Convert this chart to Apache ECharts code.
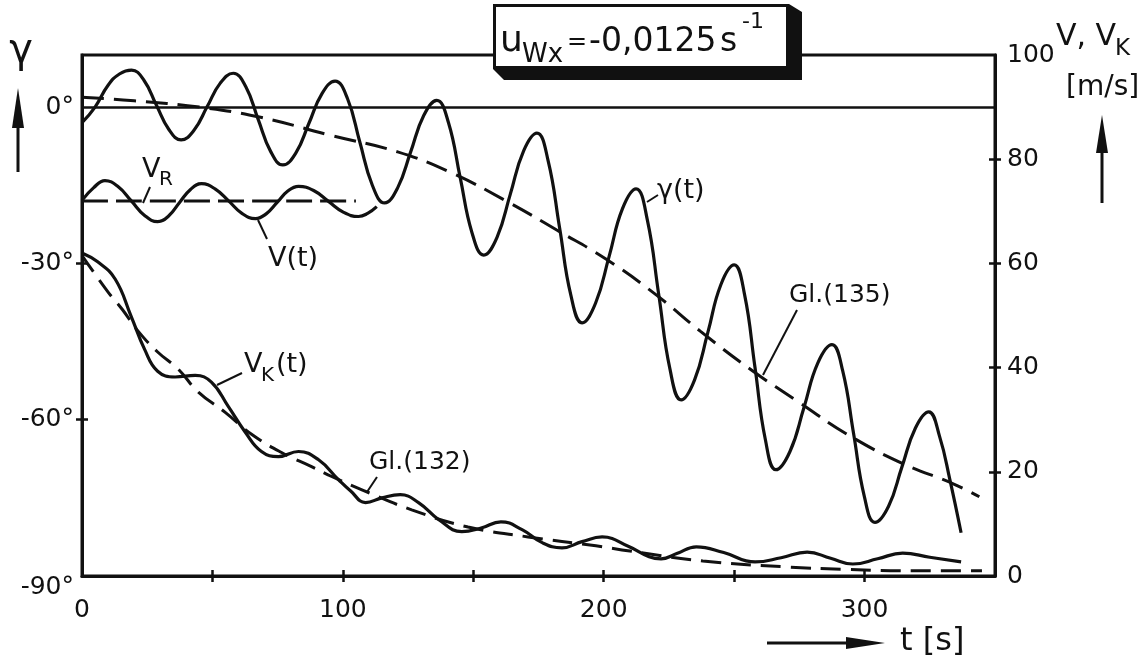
<!DOCTYPE html>
<html>
<head>
<meta charset="utf-8">
<script src="https://cdn.jsdelivr.net/npm/echarts@6/dist/echarts.min.js"></script>
<style>
  html, body { margin: 0; padding: 0; background: #fff; }
  #chart { width: 1144px; height: 656px; }
</style>
</head>
<body>
<div id="chart"></div>
<script>
// ---- data -------------------------------------------------------------
// time axis (s)
const tLabelValues = [0, 100, 200, 300];
const tTickValues = [50, 100, 150, 200, 250, 300];
// left axis: flight path angle (deg)
const gammaLabelValues = [-90, -60, -30, 0];
const gammaTickValues = [-60, -30];
// right axis: speed (m/s)
const speedLabelValues = [0, 20, 40, 60, 80, 100];
const speedTickValues = [20, 40, 60, 80];

// γ(t) [t s, deg]
const gammaT = [
  [0, -3.0], [5, 0.0], [10, 4.2], [14.5, 6.4], [19, 7.1],
  [23.8, 5.1], [28.5, 0.4], [33.3, -4.3], [38, -6.3],
  [43, -4.4], [48, 0.1], [53, 4.6], [58, 6.5],
  [62.8, 3.9], [67.5, -2.3], [72.3, -8.5], [77, -11.1],
  [82, -8.8], [87, -3.1], [92, 2.6], [97, 5.0],
  [101.8, 1.6], [106.5, -6.7], [111.3, -15.0], [116, -18.4],
  [121, -15.5], [126, -8.6], [131, -1.6], [136, 1.3],
  [140.5, -3.0], [145, -13.6], [149.5, -24.1], [154, -28.4],
  [159.1, -25.0], [164.2, -16.7], [169.3, -8.4], [174.4, -5.0],
  [178.7, -10.3], [183.1, -23.2], [187.4, -36.1], [191.7, -41.4],
  [196.9, -37.6], [202.1, -28.6], [207.2, -19.5], [212.4, -15.7],
  [216.7, -21.6], [221.1, -36.0], [225.4, -50.3], [229.7, -56.2],
  [234.8, -52.4], [239.9, -43.3], [244.9, -34.1], [250, -30.3],
  [254, -36.0], [258, -50.0], [262, -63.9], [266, -69.6],
  [271.4, -66.1], [276.8, -57.6], [282.1, -49.1], [287.5, -45.6],
  [291.6, -50.6], [295.8, -62.7], [299.9, -74.7], [304, -79.7],
  [309.2, -76.6], [314.3, -69.1], [319.5, -61.6], [324.6, -58.5],
  [328.8, -63.3], [332.7, -71.5], [337, -81.7]
];
// Gl.(135) [t s, deg]
const gl135 = [
  [0, 1.9], [20, 1.2], [45, 0.0], [68, -1.9], [96, -5.5], [121, -8.6],
  [142, -12.7], [164, -18.4], [182, -23.6], [201, -29.2], [220, -36.0],
  [237, -43.0], [257, -50.6], [275, -56.7], [294, -63.0], [315, -68.5],
  [334, -72.3], [344, -74.8]
];
// V(t) [t s, m/s]
const vT = [
  [0, 72.1], [4.4, 74.5], [8.8, 75.9], [13.9, 74.7], [18.9, 72.0], [24, 69.2],
  [29, 68.0], [33.2, 69.1], [37.4, 71.7], [41.6, 74.2], [45.8, 75.3],
  [51, 74.3], [56.2, 72.0], [61.3, 69.6], [66.5, 68.6], [70.6, 69.5],
  [74.8, 71.7], [78.9, 73.9], [83, 74.8], [88.8, 74.0], [94.5, 71.9],
  [100.3, 69.8], [106, 69.0], [109.5, 69.6], [113, 70.9]
];
// V_R [t s, m/s]
const vR = [[0, 72], [105, 72]];
// V_K(t) [t s, m/s]
const vK = [
  [0, 62], [6, 60.3], [12.7, 57], [18.8, 49.9], [24, 43.5], [29, 39.3],
  [35.7, 38.2], [43.4, 38.5], [49.6, 37.2], [56, 32.6], [62.6, 27.6],
  [68.8, 23.9], [75.3, 22.9], [83, 23.9], [90.7, 22.3], [98.3, 18.5],
  [103, 16.3], [108.7, 14.1], [115, 15.0], [122, 15.6], [129, 14.1],
  [136.8, 10.8], [145.6, 8.5], [153, 9.2], [160.6, 10.4], [168.7, 8.9],
  [176.4, 6.4], [184, 5.4], [191.7, 6.6], [199.4, 7.5], [209.8, 5.6],
  [217.4, 3.7], [222, 3.3], [228, 4.3], [235.5, 5.6], [246, 4.5],
  [258, 2.7], [268, 3.5], [278, 4.6], [287, 3.4], [295.5, 2.3],
  [305, 3.3], [314.6, 4.4], [325, 3.6], [337, 2.7]
];
// Gl.(132) [t s, m/s]
const gl132 = [
  [0, 61.5], [10, 54.5], [15.4, 51.2], [21.5, 47.0], [29, 43.0], [36.9, 39.7],
  [44.6, 35.3], [54.9, 31.4], [65, 27.2], [76.5, 23.7], [88, 21.0],
  [95.7, 19.1], [108, 16.4], [126.4, 12.7], [148, 9.4], [171, 7.5],
  [197, 5.8], [210, 4.8], [238, 2.9], [271.6, 1.7], [291.6, 1.3],
  [318, 1.0], [345, 1.0]
];

// ---- styling ----------------------------------------------------------
const INK = '#111';
const FONT = '"DejaVu Sans", sans-serif';
const LW = 3.2;

function curve(name, data, yAxisIndex, dash) {
  return {
    name, type: 'line', data, yAxisIndex, smooth: 0.45,
    symbol: 'none', silent: true,
    lineStyle: { color: INK, width: dash ? 3 : LW, type: dash || 'solid', cap: 'butt' }
  };
}

function valueAxis(extra) {
  return Object.assign({
    type: 'value', splitLine: { show: false },
    axisLine: { show: true, onZero: false, lineStyle: { color: INK, width: 3 } },
    axisTick: { show: true, length: 6, lineStyle: { color: INK, width: 2.5 } },
    axisLabel: { color: INK, fontSize: 25, fontFamily: FONT }
  }, extra);
}

function innerTicks(base, ticks) {
  return Object.assign({}, base, {
    axisLine: { show: false, onZero: false },
    axisLabel: { show: false },
    axisTick: { show: true, inside: true, length: 6, customValues: ticks,
                lineStyle: { color: INK, width: 2.5 } }
  });
}

const xBase = { type: 'value', min: 0, max: 350, interval: 50, position: 'bottom' };
const yLeftBase = { type: 'value', min: -90, max: 10, interval: 30, position: 'left' };
const yRightBase = { type: 'value', min: 0, max: 100, interval: 20, position: 'right' };

const chart = echarts.init(document.getElementById('chart'), null, { renderer: 'canvas' });

function txt(text, x, y, size, align, extra) {
  return Object.assign({
    type: 'text', z: 100,
    style: { text, x, y, fill: INK, font: size + 'px ' + FONT,
             textAlign: align || 'left', textVerticalAlign: 'middle' }
  }, extra || {});
}
function seg(x1, y1, x2, y2, w) {
  return { type: 'line', z: 100, shape: { x1, y1, x2, y2 },
           style: { stroke: INK, lineWidth: w || 2 } };
}
function tri(points) {
  return { type: 'polygon', z: 100, shape: { points }, style: { fill: INK } };
}

chart.setOption({
  animation: false,
  backgroundColor: '#fff',
  grid: { left: 82, right: 149, top: 55, bottom: 80, show: true,
          borderColor: INK, borderWidth: 3, backgroundColor: 'transparent' },
  xAxis: [
    valueAxis(Object.assign({}, xBase, {
      axisTick: { show: true, length: 6, customValues: tTickValues,
                  lineStyle: { color: INK, width: 2.5 } },
      axisLabel: { color: INK, fontSize: 25, fontFamily: FONT, margin: 22,
                   customValues: tLabelValues }
    })),
    innerTicks(valueAxis(xBase), tTickValues)
  ],
  yAxis: [
    valueAxis(Object.assign({}, yLeftBase, {
      axisTick: { show: true, length: 6, customValues: gammaTickValues,
                  lineStyle: { color: INK, width: 2.5 } },
      axisLabel: { color: INK, fontSize: 25, fontFamily: FONT, margin: 8,
                   customValues: gammaLabelValues,
                   formatter: v => (v === -90 ? '{low|' + v + '°}' : v + '°'),
                   rich: { low: { fontSize: 25, fontFamily: FONT, color: INK,
                                  padding: [22, 0, 0, 0] } } }
    })),
    valueAxis(Object.assign({}, yRightBase, {
      axisTick: { show: true, length: 6, customValues: speedTickValues,
                  lineStyle: { color: INK, width: 2.5 } },
      axisLabel: { color: INK, fontSize: 25, fontFamily: FONT, margin: 12,
                   customValues: speedLabelValues }
    })),
    innerTicks(valueAxis(yLeftBase), gammaTickValues),
    innerTicks(valueAxis(yRightBase), speedTickValues)
  ],
  series: [
    Object.assign(curve('γ(t)', gammaT, 0, null), {
      markLine: {
        silent: true, symbol: ['none', 'none'], label: { show: false },
        lineStyle: { color: INK, width: 2.5, type: 'solid' },
        data: [{ yAxis: 0 }]
      }
    }),
    curve('Gl.(135)', gl135, 0, [22, 10]),
    curve('V(t)', vT, 1, null),
    curve('V_R', vR, 1, [26, 8]),
    curve('V_K(t)', vK, 1, null),
    curve('Gl.(132)', gl132, 1, [20, 10])
  ],
  graphic: [
    // parameter box with solid shadow
    { type: 'polygon', z: 100,
      shape: { points: [[493, 4], [789, 4], [802, 12], [802, 80], [504, 80], [493, 69]] },
      style: { fill: INK } },
    { type: 'rect', z: 101, shape: { x: 496, y: 7, width: 290, height: 59 },
      style: { fill: '#fff' } },
    txt('u', 500, 42, 36, 'left', { z: 102 }),
    txt('Wx', 522, 55, 26, 'left', { z: 102 }),
    txt('=', 567, 43, 24, 'left', { z: 102 }),
    txt('-0,0125', 589, 42, 33, 'left', { z: 102 }),
    txt('s', 720, 42, 33, 'left', { z: 102 }),
    txt('-1', 742, 22, 22, 'left', { z: 102 }),

    // left axis title and arrow
    txt('γ', 21, 52, 40, 'center'),
    seg(18, 172, 18, 122, 3),
    tri([[18, 88], [12, 128], [24, 128]]),

    // right axis title and arrow
    txt('V, V', 1056, 37, 30, 'left'),
    txt('K', 1115, 49, 23, 'left'),
    txt('[m/s]', 1066, 88, 28, 'left'),
    seg(1102, 203, 1102, 148, 3),
    tri([[1102, 115], [1096, 153], [1108, 153]]),

    // time axis title and arrow
    seg(767, 643, 850, 643, 3),
    tri([[885, 643], [846, 637], [846, 649]]),
    txt('t [s]', 900, 642, 32, 'left'),

    // curve annotations
    txt('V', 142, 170, 27, 'left'),
    txt('R', 159, 180, 20, 'left'),
    seg(150, 187, 143, 203),
    txt('V(t)', 268, 259, 27, 'left'),
    seg(258, 220, 267, 239),
    txt('γ(t)', 657, 191, 27, 'left'),
    seg(647, 202, 658, 195),
    txt('V', 244, 365, 27, 'left'),
    txt('K', 261, 376, 20, 'left'),
    txt('(t)', 276, 365, 27, 'left'),
    seg(242, 373, 217, 385),
    txt('Gl.(132)', 369, 462, 25, 'left'),
    seg(377, 477, 367, 492),
    txt('Gl.(135)', 789, 295, 25, 'left'),
    seg(797, 310, 763, 375)
  ]
});
</script>
</body>
</html>
